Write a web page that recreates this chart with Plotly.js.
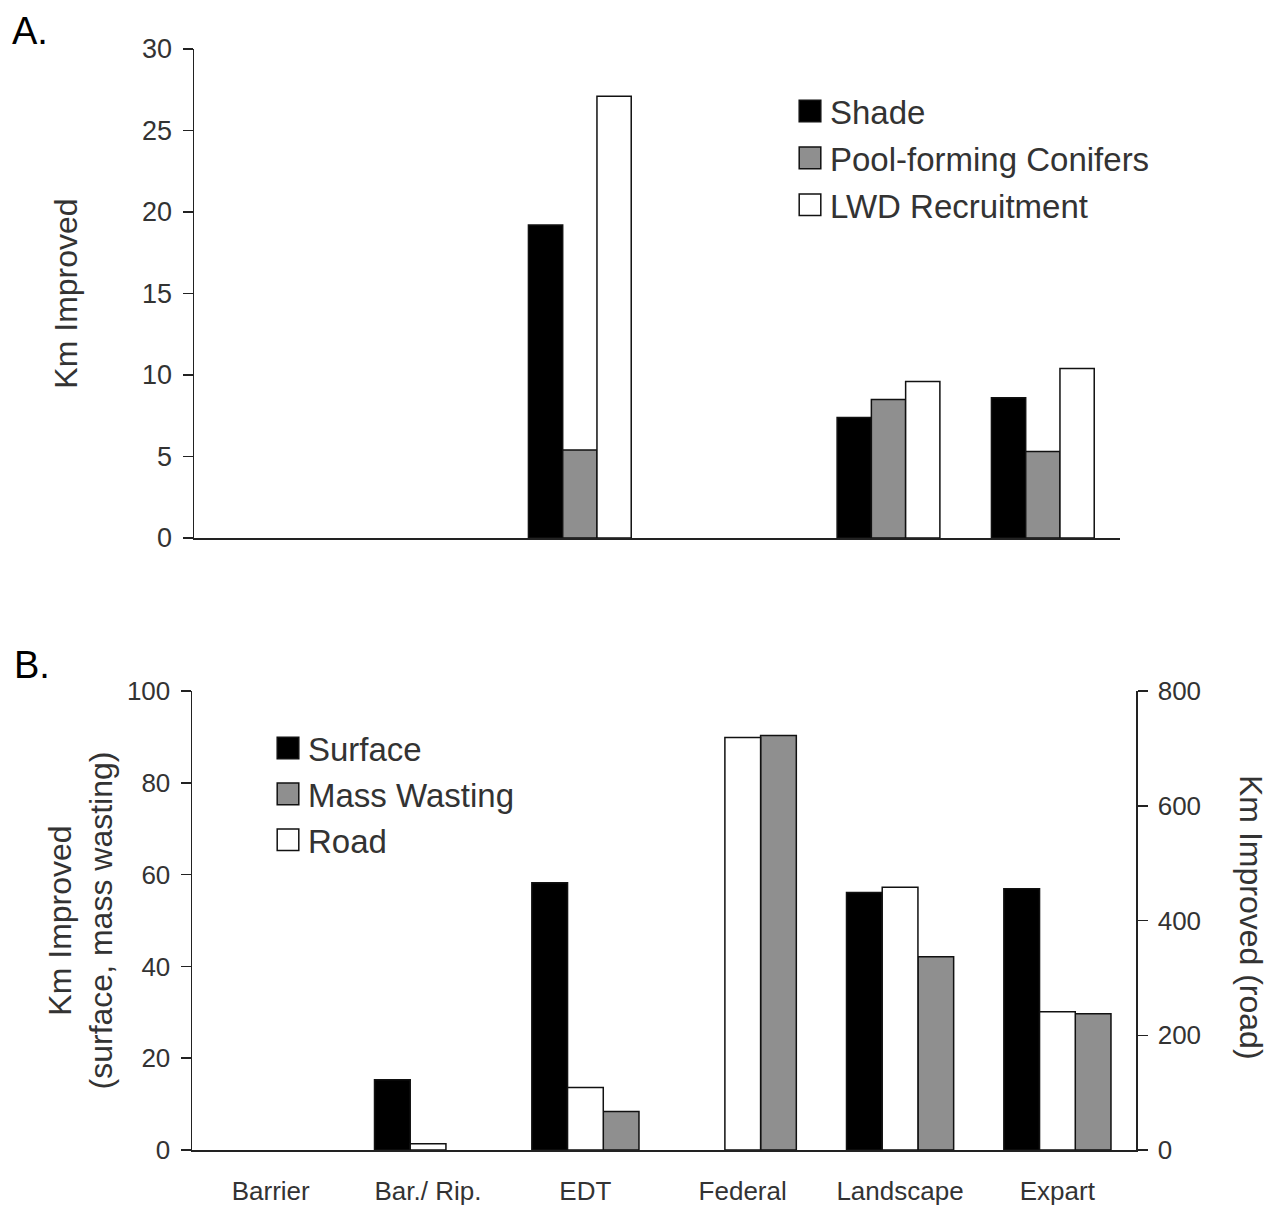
<!DOCTYPE html>
<html><head><meta charset="utf-8">
<script src="https://cdn.plot.ly/plotly-3.0.1.min.js"></script>
<style>html,body{margin:0;padding:0;background:#fff}</style>
</head><body><div id="chart" style="width:1281px;height:1206px"></div>
<script>
const categories = ['Barrier', 'Bar./ Rip.', 'EDT', 'Federal', 'Landscape', 'Expart'];
// Panel A (Km improved)
const shade = [0, 0, 19.2, 0, 7.4, 8.6];
const poolConifers = [0, 0, 5.4, 0, 8.5, 5.3];
const lwdRecruitment = [0, 0, 27.1, 0, 9.6, 10.4];
// Panel B
const surface = [0, 15.3, 58.2, 0, 56.1, 56.9];       // left axis
const massWasting = [0, 0, 8.4, 90.3, 42.1, 29.7];    // left axis
const road = [0, 11, 109, 719, 458, 241];             // right axis
const ticksA = [0, 5, 10, 15, 20, 25, 30];
const ticksBLeft = [0, 20, 40, 60, 80, 100];
const ticksBRight = [0, 200, 400, 600, 800];

const FONT = 'Liberation Sans, Arial, sans-serif';
const TXT = '#333333';
const BLACK = '#000000', GRAY = '#8f8f8f', WHITE = '#ffffff';
const EDGE = '#111111';
// no outline on zero-height bars (they would only redraw the axis line)
function outline(vals) { return {color: EDGE, width: vals.map(v => v === 0 ? 0 : 1.5)}; }

const wA = 0.222, wB = 0.227;
const traces = [
  {type: 'bar', name: 'Shade', x: categories, y: shade, xaxis: 'x', yaxis: 'y',
   width: wA, offset: -0.333, marker: {color: BLACK, line: outline(shade)}, legend: 'legend', legendgroup: 'a1'},
  {type: 'bar', name: 'Pool-forming Conifers', x: categories, y: poolConifers, xaxis: 'x', yaxis: 'y',
   width: wA, offset: -0.111, marker: {color: GRAY, line: outline(poolConifers)}, legend: 'legend', legendgroup: 'a2'},
  {type: 'bar', name: 'LWD Recruitment', x: categories, y: lwdRecruitment, xaxis: 'x', yaxis: 'y',
   width: wA, offset: 0.111, marker: {color: WHITE, line: outline(lwdRecruitment)}, legend: 'legend', legendgroup: 'a3'},
  {type: 'bar', name: 'Surface', x: categories, y: surface, xaxis: 'x2', yaxis: 'y2',
   width: wB, offset: -0.34, marker: {color: BLACK, line: outline(surface)}, legend: 'legend2', legendgroup: 'b1', legendrank: 1},
  {type: 'bar', name: 'Road', x: categories, y: road, xaxis: 'x2', yaxis: 'y3',
   width: wB, offset: -0.113, marker: {color: WHITE, line: outline(road)}, legend: 'legend2', legendgroup: 'b3', legendrank: 3},
  {type: 'bar', name: 'Mass Wasting', x: categories, y: massWasting, xaxis: 'x2', yaxis: 'y2',
   width: wB, offset: 0.114, marker: {color: GRAY, line: outline(massWasting)}, legend: 'legend2', legendgroup: 'b2', legendrank: 2}
];

const W = 1281, H = 1206;
const titleFont = {family: FONT, size: 32, color: TXT};
function yBase(size) {
  return {showgrid: false, zeroline: false, showline: true, linecolor: '#222', linewidth: 1.5,
    ticks: 'outside', ticklen: 10, tickwidth: 1.5, tickcolor: '#222', ticklabelstandoff: 5,
    tickfont: {family: FONT, size: size, color: TXT}, automargin: false};
}

const layout = {
  width: W, height: H,
  margin: {l: 0, r: 0, t: 0, b: 0},
  paper_bgcolor: '#fff', plot_bgcolor: 'rgba(0,0,0,0)',
  barmode: 'overlay',
  font: {family: FONT, color: TXT},
  xaxis: {domain: [194 / W, 1120 / W], anchor: 'y', type: 'category', categoryarray: categories,
    range: [-0.5, 5.5], showgrid: false, zeroline: false, showline: true, linecolor: '#222', linewidth: 1.5,
    ticks: '', showticklabels: false, automargin: false},
  yaxis: Object.assign(yBase(27), {domain: [1 - 538 / H, 1 - 49 / H], anchor: 'x', range: [0, 30],
    tickvals: ticksA, title: {text: 'Km Improved', font: titleFont, standoff: 55}}),
  xaxis2: {domain: [192 / W, 1136 / W], anchor: 'y2', type: 'category', categoryarray: categories,
    range: [-0.5, 5.5], showgrid: false, zeroline: false, showline: true, linecolor: '#222', linewidth: 1.5,
    ticks: '', tickfont: {family: FONT, size: 26, color: TXT}, ticklabelstandoff: 17, automargin: false},
  yaxis2: Object.assign(yBase(26), {domain: [1 - 1150 / H, 1 - 691 / H], anchor: 'x2', range: [0, 100],
    tickvals: ticksBLeft, title: {text: 'Km Improved<br>(surface, mass wasting)', font: titleFont, standoff: 4}}),
  yaxis3: Object.assign(yBase(26), {overlaying: 'y2', side: 'right', anchor: 'x2', range: [0, 800],
    tickvals: ticksBRight}),
  legend: {x: 790 / W, y: 1 - 83 / H, xanchor: 'left', yanchor: 'top', bgcolor: 'rgba(0,0,0,0)',
    font: {family: FONT, size: 33, color: TXT}, tracegroupgap: 1, traceorder: 'grouped'},
  legend2: {x: 268 / W, y: 1 - 720 / H, xanchor: 'left', yanchor: 'top', bgcolor: 'rgba(0,0,0,0)',
    font: {family: FONT, size: 33, color: TXT}, tracegroupgap: 0, traceorder: 'grouped'},
  annotations: [
    {text: 'A.', xref: 'paper', yref: 'paper', x: 10 / W, y: 1 - 8 / H, xanchor: 'left', yanchor: 'top',
     showarrow: false, font: {family: FONT, size: 38, color: '#000'}},
    {text: 'B.', xref: 'paper', yref: 'paper', x: 12 / W, y: 1 - 642 / H, xanchor: 'left', yanchor: 'top',
     showarrow: false, font: {family: FONT, size: 38, color: '#000'}},
    {text: 'Km Improved (road)', xref: 'paper', yref: 'paper', x: 1251 / W, y: 1 - 917 / H,
     xanchor: 'center', yanchor: 'middle', textangle: 90, showarrow: false, font: titleFont}
  ]
};

Plotly.newPlot('chart', traces, layout, {displayModeBar: false, staticPlot: true}).then(function () {
  // enlarge legend swatches and give every swatch an outline, as in the original figure
  document.querySelectorAll('.legendpoints path').forEach(function (p) {
    const t = p.getAttribute('transform') || '';
    p.setAttribute('transform', t + ' scale(1.8)');
    p.setAttribute('vector-effect', 'non-scaling-stroke');
    p.style.stroke = EDGE;
    p.style.strokeOpacity = '1';
    p.style.strokeWidth = '1.5px';
  });
});
</script>
</body></html>
